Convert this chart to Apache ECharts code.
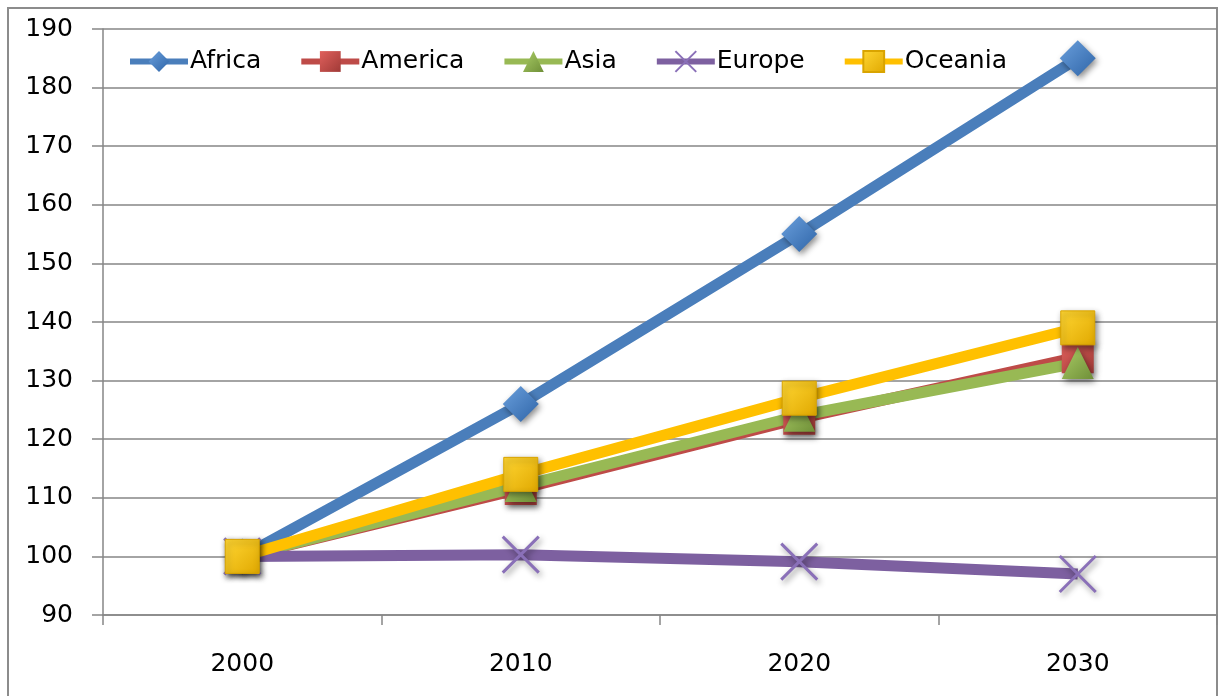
<!DOCTYPE html>
<html>
<head>
<meta charset="utf-8">
<script src="https://cdn.jsdelivr.net/npm/echarts@6/dist/echarts.min.js"></script>
<style>
html,body{margin:0;padding:0;background:#fff;}
#main{width:1221px;height:696px;}
</style>
</head>
<body>
<div id="main"></div>
<script>
const years = ['2000', '2010', '2020', '2030'];
const africa = [100, 126, 155, 185];
const america = [100, 111.5, 123.5, 134];
const asia = [100, 112, 124, 133];
const europe = [100, 100.3, 99.1, 97];
const oceania = [100, 114, 127, 139];
const yTicks = [90, 100, 110, 120, 130, 140, 150, 160, 170, 180, 190];

const FONT = 'DejaVu Sans';
const shadow = {shadowBlur: 6, shadowColor: 'rgba(0,0,0,0.45)', shadowOffsetX: 2, shadowOffsetY: 3};

function grad(c1, c2) {
  return new echarts.graphic.LinearGradient(0, 0, 1, 1, [
    {offset: 0, color: c1}, {offset: 1, color: c2}
  ]);
}

function mk(name, data, color, symbol, size, extra) {
  return {
    name: name,
    type: 'line',
    data: data,
    symbol: symbol,
    symbolSize: size,
    showAllSymbol: true,
    lineStyle: {color: color, width: 11},
    itemStyle: Object.assign({color: color}, shadow, extra || {}),
    emphasis: {disabled: true},
    animation: false,
    z: 2
  };
}

const chart = echarts.init(document.getElementById('main'), null, {renderer: 'canvas'});
chart.setOption({
  backgroundColor: '#fff',
  animation: false,
  graphic: [{
    type: 'rect',
    shape: {x: 8, y: 8, width: 1209, height: 700},
    style: {fill: 'none', stroke: '#8c8c8c', lineWidth: 2},
    silent: true, z: -1
  }],
  legend: {
    left: 127,
    top: 49,
    padding: 0,
    itemWidth: 58,
    itemHeight: 26,
    itemGap: 37,
    lineStyle: {width: 6},
    textStyle: {fontFamily: FONT, fontSize: 25, color: '#000', padding: [0, 0, 0, -3]},
    data: ['Africa', 'America', 'Asia', 'Europe', 'Oceania']
  },
  grid: {left: 103, top: 29, right: 4, bottom: 81, containLabel: false},
  xAxis: {
    type: 'category',
    data: years,
    boundaryGap: true,
    axisLine: {lineStyle: {color: '#868686', width: 1.5}},
    axisTick: {show: true, length: 10, lineStyle: {color: '#868686', width: 1.5}},
    axisLabel: {fontFamily: FONT, fontSize: 25, color: '#000', margin: 37},
    splitLine: {show: false}
  },
  yAxis: {
    type: 'value',
    min: yTicks[0],
    max: yTicks[yTicks.length - 1],
    interval: 10,
    axisLine: {show: true, lineStyle: {color: '#868686', width: 1.5}},
    axisTick: {show: true, length: 11, lineStyle: {color: '#868686', width: 1.5}},
    axisLabel: {fontFamily: FONT, fontSize: 25, color: '#000', margin: 30},
    splitLine: {show: true, lineStyle: {color: '#868686', width: 1.5}}
  },
  series: [
    mk('Africa', africa, '#4a7ebb', 'diamond', 36, {color: grad('#6a9fdc', '#2f65a8')}),
    mk('America', america, '#be4b48', 'rect', 32, {color: grad('#e0605c', '#a03a37')}),
    mk('Asia', asia, '#98b954', 'triangle', 32, {color: grad('#aacd66', '#6f8f38')}),
    mk('Europe', europe, '#7d60a0', 'path://M0,0 L10,10 M10,0 L0,10', 36,
       {color: 'rgba(0,0,0,0)', borderColor: '#8a70b8', borderWidth: 3}),
    mk('Oceania', oceania, '#ffc000', 'rect', 34, {color: grad('#ffd633', '#e0a800'), borderColor: '#d9a400', borderWidth: 1})
  ]
});
</script>
</body>
</html>
